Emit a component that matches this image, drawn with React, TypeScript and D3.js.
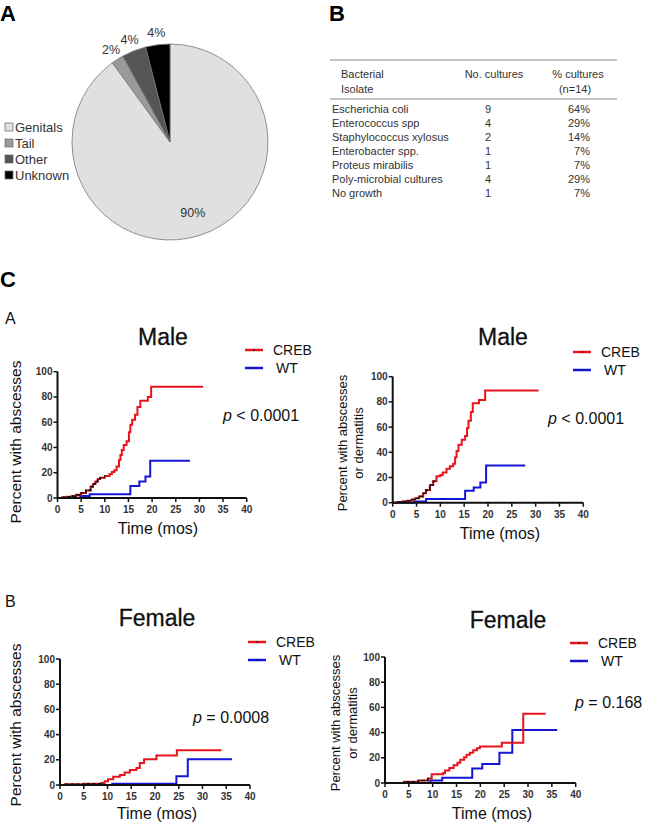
import * as d3 from "d3";

// ---- panel A: pie ----
const pieLabels = ["Genitals", "Tail", "Other", "Unknown"];
const pieValues = [90, 2, 4, 4];
const pieColors = ["#e0e0e0", "#9a9a9a", "#555555", "#000000"];

// ---- panel B: table ----
const isolates = [
    "Escherichia coli",
    "Enterococcus spp",
    "Staphylococcus xylosus",
    "Enterobacter spp.",
    "Proteus mirabilis",
    "Poly-microbial cultures",
    "No growth",
];
const noCultures = [9, 4, 2, 1, 1, 4, 1];
const pctCultures = ["64%", "29%", "14%", "7%", "7%", "29%", "7%"];

// ---- panel C: Kaplan-Meier style curves, [time (mos), percent] at each step ----
const maleAbsCreb: [number, number][] = [
    [0, 0], [1, 0.5], [2, 1], [3, 1.5], [4, 2.5], [5, 4], [6, 6], [7, 9], [7.5, 11], [8, 13],
    [8.5, 15], [9, 16], [10, 17.5], [11, 19], [11.5, 20.5], [12, 22], [12.5, 25], [13, 30],
    [13.3, 34], [13.6, 38], [14, 42], [14.6, 45], [15.1, 52], [15.4, 58], [15.8, 62],
    [16.4, 66], [16.9, 72], [17.5, 77], [19.1, 80], [19.8, 88],
];
const maleAbsCrebEnd = 30.8;
const maleAbsWt: [number, number][] = [[0, 0], [4.8, 1.5], [6.8, 3], [15.4, 9.5], [17.3, 13], [18.6, 17], [19.6, 29.5]];
const maleAbsWtEnd = 28;

const maleDermCreb: [number, number][] = [
    [0, 0], [1, 0.5], [2, 1], [3, 1.5], [4, 2.5], [4.7, 3.5], [5.5, 5], [6.4, 7.5], [7, 10],
    [7.8, 14], [8.5, 17], [9.2, 21], [10, 22], [10.5, 24], [11.3, 27], [12, 29], [12.7, 31],
    [13.1, 36], [13.4, 41], [13.8, 46], [14.5, 50], [15.2, 53], [15.6, 59], [15.9, 65],
    [16.4, 72], [16.8, 79], [18.1, 81.5], [19.4, 89],
];
const maleDermCrebEnd = 30.6;
const maleDermWt: [number, number][] = [[0, 0], [4.5, 1], [7, 3], [15.2, 9.5], [17, 12], [18.4, 16], [19.6, 29.5]];
const maleDermWtEnd = 27.8;

const femAbsCreb: [number, number][] = [
    [0, 0], [1, 0.5], [5, 1], [8.7, 1.5], [9.4, 3], [10.1, 4.5], [11.2, 6.5], [12.6, 8],
    [13.6, 10], [14.7, 12], [16.1, 13.5], [16.8, 17.5], [17.7, 20.5], [20.3, 23.5], [24.6, 27.5],
];
const femAbsCrebEnd = 34;
const femAbsWt: [number, number][] = [[0, 0], [11, 1], [24.5, 7], [26.9, 20.5]];
const femAbsWtEnd = 36.2;

const femDermCreb: [number, number][] = [
    [0, 0], [4, 1], [7, 2], [9, 3.5], [9.8, 7], [12.2, 8], [12.6, 10], [13.5, 12], [14.4, 14],
    [15.2, 16], [15.8, 18.5], [16.6, 20.5], [17.1, 22.5], [17.8, 24], [18.5, 26], [19.3, 27.5],
    [19.9, 29], [24.5, 32], [29, 55],
];
const femDermCrebEnd = 33.7;
const femDermWt: [number, number][] = [[0, 0], [9.5, 2], [12, 4.2], [18.3, 11.6], [20.4, 15], [24, 24], [26.7, 42]];
const femDermWtEnd = 36.1;

const xTicks = [0, 5, 10, 15, 20, 25, 30, 35, 40];
const yTicks = [0, 20, 40, 60, 80, 100];
const seriesNames = ["CREB", "WT"];

const FONT = "Arial, 'Liberation Sans', Helvetica, sans-serif";
const RED = "#e8141b";
const BLUE = "#1515d8";

interface KMProps {
    id: string;
    x0: number; x40: number; y0: number; y100: number;
    title: string; titleX: number; titleY: number;
    yLabel: string[]; yLabelX: number[]; yLabelY: number; yLabelSize: number;
    xLabelX: number; xLabelY: number;
    legX: number; legY: number;
    pText: string; pX: number; pY: number;
    creb: [number, number][]; crebEnd: number;
    wt: [number, number][]; wtEnd: number;
    blackEnd: number;
}

function KMChart(p: KMProps) {
    const x = d3.scaleLinear().domain([0, 40]).range([p.x0, p.x40]);
    const y = d3.scaleLinear().domain([0, 100]).range([p.y0, p.y100]);
    const line = d3.line<[number, number]>()
        .x((d) => x(d[0]))
        .y((d) => y(d[1]))
        .curve(d3.curveStepAfter);
    const withEnd = (s: [number, number][], end: number): [number, number][] =>
        [...s, [end, s[s.length - 1][1]]];
    const crebPath = line(withEnd(p.creb, p.crebEnd)) || "";
    const wtPath = line(withEnd(p.wt, p.wtEnd)) || "";
    const [op, ...rest] = p.pText.split(" ");

    return (
        <g fontFamily={FONT}>
            <defs>
                <clipPath id={`clip-${p.id}`}>
                    <rect x={x(0) - 2} y={y(100)} width={x(p.blackEnd) - x(0) + 2} height={y(0) - y(100) + 3} />
                </clipPath>
            </defs>
            <text x={p.titleX} y={p.titleY} textAnchor="middle" fontSize={23} fill="#111"
                stroke="#111" strokeWidth={0.3}>{p.title}</text>
            {/* curves */}
            <path d={wtPath} fill="none" stroke={BLUE} strokeWidth={2} />
            <path d={crebPath} fill="none" stroke={RED} strokeWidth={2} />
            <path d={crebPath} fill="none" stroke="#111" strokeWidth={1.6} strokeDasharray="4,1.5"
                clipPath={`url(#clip-${p.id})`} />
            {/* axes */}
            <line x1={x(0)} x2={x(40)} y1={y(0)} y2={y(0)} stroke="#111" strokeWidth={2} />
            <line x1={x(0)} x2={x(0)} y1={y(0)} y2={y(100)} stroke="#111" strokeWidth={2} />
            {xTicks.map((t) => (
                <g key={`x${t}`}>
                    <line x1={x(t)} x2={x(t)} y1={y(0)} y2={y(0) + 4} stroke="#111" strokeWidth={1.5} />
                    <text x={x(t)} y={y(0) + 15} textAnchor="middle" fontSize={10} fontWeight="bold" fill="#333">{t}</text>
                </g>
            ))}
            {yTicks.map((t) => (
                <g key={`y${t}`}>
                    <line x1={x(0) - 4} x2={x(0)} y1={y(t)} y2={y(t)} stroke="#111" strokeWidth={1.5} />
                    <text x={x(0) - 5} y={y(t) + 3.5} textAnchor="end" fontSize={10} fontWeight="bold" fill="#333">{t}</text>
                </g>
            ))}
            <text x={p.xLabelX} y={p.xLabelY} textAnchor="middle" fontSize={16} fill="#111">Time (mos)</text>
            {p.yLabel.map((s, i) => (
                <text key={s} transform={`translate(${p.yLabelX[i]},${p.yLabelY}) rotate(-90)`}
                    textAnchor="middle" dominantBaseline="central" fontSize={p.yLabelSize} fill="#111">{s}</text>
            ))}
            {/* legend */}
            {seriesNames.map((n, i) => (
                <g key={n}>
                    <line x1={p.legX} x2={p.legX + 18} y1={p.legY + i * 18} y2={p.legY + i * 18}
                        stroke={i === 0 ? RED : BLUE} strokeWidth={2.5} />
                    <line x1={p.legX + 9} x2={p.legX + 9} y1={p.legY + i * 18 - 1} y2={p.legY + i * 18 + 1}
                        stroke="#111" strokeWidth={1} />
                    <text x={p.legX + 28 + i * 3} y={p.legY + i * 18 + 5} fontSize={14} fill="#111">{n}</text>
                </g>
            ))}
            <text x={p.pX} y={p.pY} fontSize={16} fill="#111">
                <tspan fontStyle="italic">{op}</tspan> {rest.join(" ")}
            </text>
        </g>
    );
}

function PiePanel() {
    const cx = 170, cy = 142, r = 98;
    const pie = d3.pie<number>().sort(null)(pieValues);
    const arc = d3.arc<d3.PieArcDatum<number>>().innerRadius(0).outerRadius(r);
    const outer = d3.arc<d3.PieArcDatum<number>>().innerRadius(110).outerRadius(110);
    const inner = d3.arc<d3.PieArcDatum<number>>().innerRadius(74).outerRadius(74);
    return (
        <g fontFamily={FONT}>
            <g transform={`translate(${cx},${cy})`}>
                {pie.map((s, i) => (
                    <path key={pieLabels[i]} d={arc(s) || ""} fill={pieColors[i]} stroke="#777" strokeWidth={0.8} />
                ))}
                {pie.map((s, i) => {
                    const [lx, ly] = i === 0 ? inner.centroid(s) : outer.centroid(s);
                    return (
                        <text key={`l${i}`} x={lx} y={ly + 4.5} textAnchor="middle" fontSize={12.5} fill="#333">
                            {pieValues[i]}%
                        </text>
                    );
                })}
            </g>
            {pieLabels.map((l, i) => (
                <g key={l}>
                    <rect x={5} y={123 + i * 16} width={8} height={8} fill={pieColors[i]} stroke="#666" strokeWidth={0.7} />
                    <text x={15} y={132 + i * 16} fontSize={13} fill="#333">{l}</text>
                </g>
            ))}
        </g>
    );
}

function TablePanel() {
    const rowY = d3.scaleLinear().domain([0, 6]).range([113, 197]);
    return (
        <g fontFamily={FONT} fill="#333" fontSize={11}>
            <line x1={330} x2={617} y1={60} y2={60} stroke="#888" strokeWidth={1} />
            <line x1={330} x2={617} y1={99} y2={99} stroke="#888" strokeWidth={1} />
            <text x={341} y={78}>Bacterial</text>
            <text x={341} y={93}>Isolate</text>
            <text x={494} y={78} textAnchor="middle">No. cultures</text>
            <text x={578} y={78} textAnchor="middle">% cultures</text>
            <text x={575} y={93} textAnchor="middle">(n=14)</text>
            {isolates.map((name, i) => (
                <g key={name}>
                    <text x={332} y={rowY(i)}>{name}</text>
                    <text x={488} y={rowY(i)} textAnchor="middle">{noCultures[i]}</text>
                    <text x={590} y={rowY(i)} textAnchor="end">{pctCultures[i]}</text>
                </g>
            ))}
        </g>
    );
}

export default function App() {
    return (
        <div style={{ position: "absolute", left: 0, top: 0 }}>
            <svg width={647} height={823} style={{ display: "block", background: "#fff" }}>
                <g fontFamily={FONT} fontWeight="bold" fill="#000">
                    <text x={0} y={21} fontSize={22}>A</text>
                    <text x={329} y={21} fontSize={22}>B</text>
                    <text x={0} y={287} fontSize={22}>C</text>
                </g>
                <g fontFamily={FONT} fill="#111" fontSize={16}>
                    <text x={5} y={324}>A</text>
                    <text x={5} y={607}>B</text>
                </g>
                <PiePanel />
                <TablePanel />
                <KMChart id="c1" x0={57.5} x40={246.7} y0={498} y100={371.7}
                    title="Male" titleX={163} titleY={345}
                    yLabel={["Percent with abscesses"]} yLabelX={[15]} yLabelY={442} yLabelSize={15.5}
                    xLabelX={158} xLabelY={534} legX={245} legY={350}
                    pText="p < 0.0001" pX={223} pY={421}
                    creb={maleAbsCreb} crebEnd={maleAbsCrebEnd} wt={maleAbsWt} wtEnd={maleAbsWtEnd} blackEnd={10} />
                <KMChart id="c2" x0={392.7} x40={583.3} y0={502.7} y100={376.7}
                    title="Male" titleX={503} titleY={345}
                    yLabel={["Percent with abscesses", "or dermatitis"]} yLabelX={[342, 358]} yLabelY={443} yLabelSize={13}
                    xLabelX={500} xLabelY={539} legX={573} legY={352}
                    pText="p < 0.0001" pX={548} pY={424}
                    creb={maleDermCreb} crebEnd={maleDermCrebEnd} wt={maleDermWt} wtEnd={maleDermWtEnd} blackEnd={9} />
                <KMChart id="c3" x0={60} x40={250} y0={785} y100={659}
                    title="Female" titleX={157} titleY={626}
                    yLabel={["Percent with abscesses"]} yLabelX={[15]} yLabelY={725} yLabelSize={15.5}
                    xLabelX={157} xLabelY={819} legX={248} legY={642}
                    pText="p = 0.0008" pX={193} pY={723}
                    creb={femAbsCreb} crebEnd={femAbsCrebEnd} wt={femAbsWt} wtEnd={femAbsWtEnd} blackEnd={9} />
                <KMChart id="c4" x0={385} x40={575.7} y0={783} y100={657}
                    title="Female" titleX={508} titleY={628}
                    yLabel={["Percent with abscesses", "or dermatitis"]} yLabelX={[335, 352]} yLabelY={723} yLabelSize={13}
                    xLabelX={492} xLabelY={819} legX={570} legY={643}
                    pText="p = 0.168" pX={575} pY={708}
                    creb={femDermCreb} crebEnd={femDermCrebEnd} wt={femDermWt} wtEnd={femDermWtEnd} blackEnd={9.5} />
            </svg>
        </div>
    );
}
